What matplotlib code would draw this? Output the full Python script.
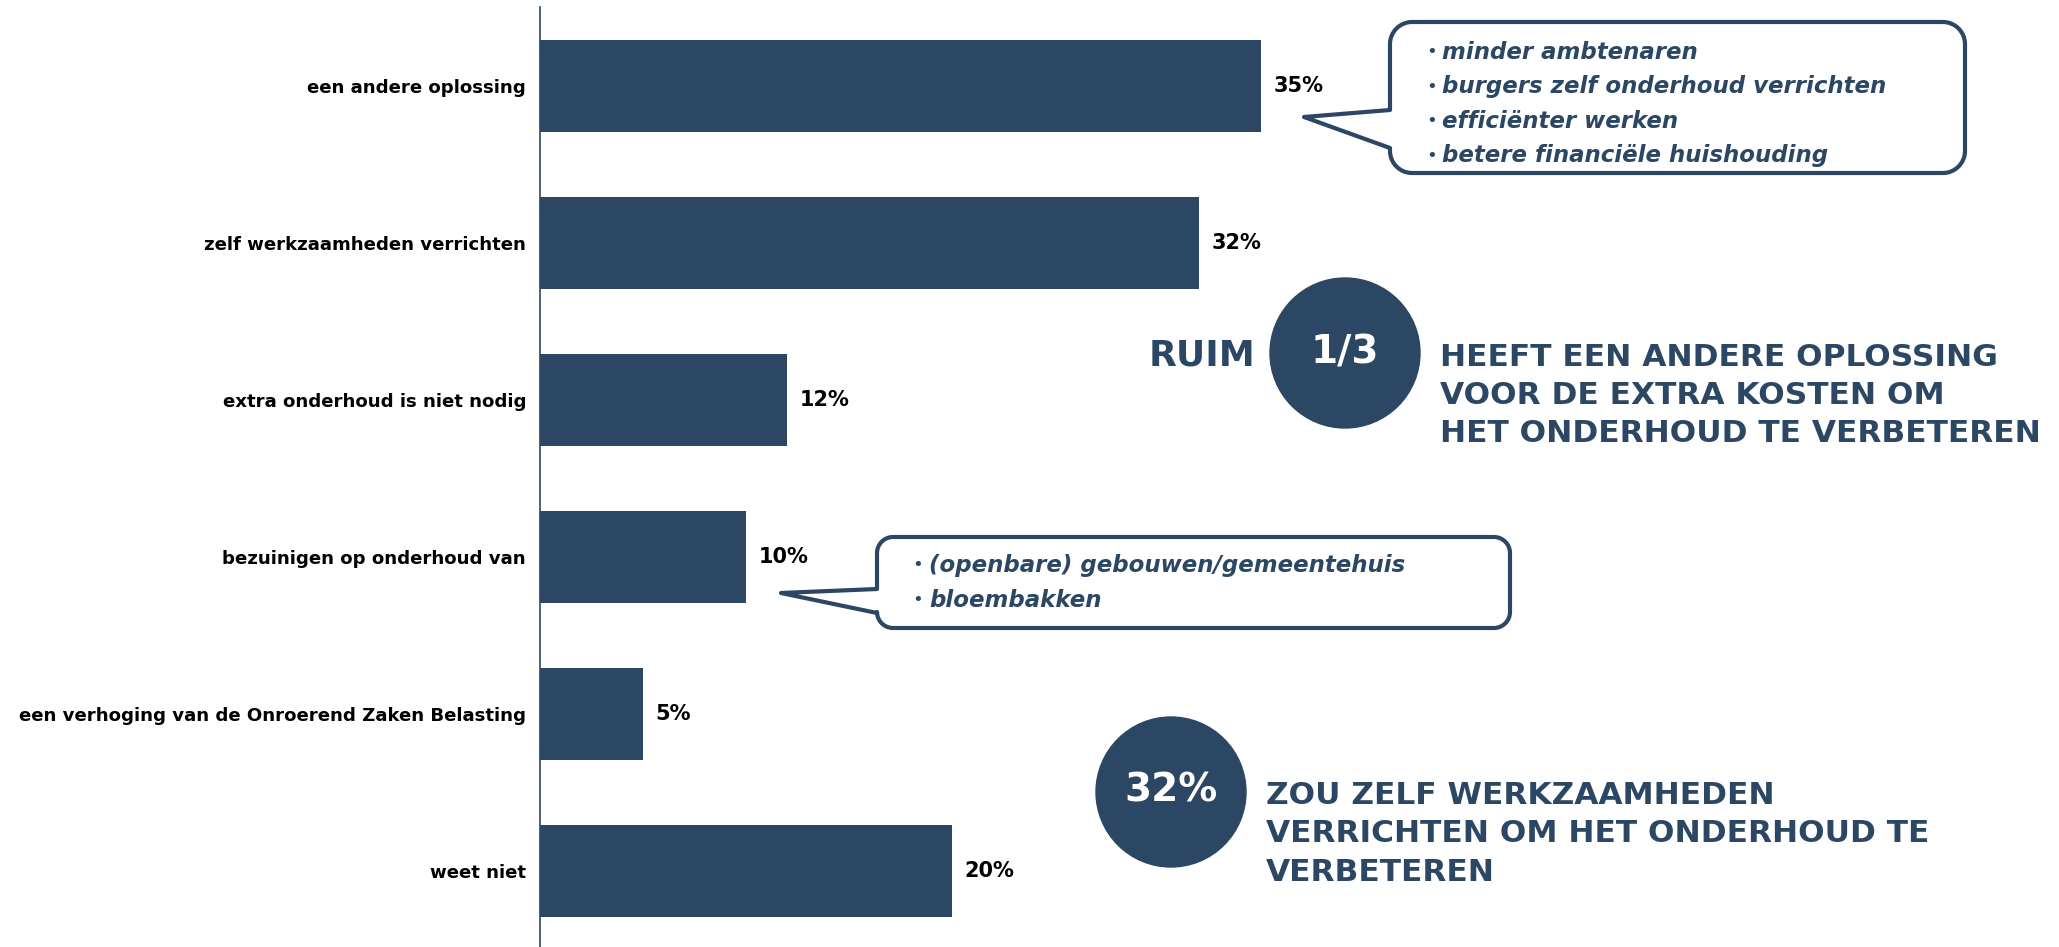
import numpy as np
import matplotlib
matplotlib.use('Agg')
import matplotlib.pyplot as plt
from matplotlib.path import Path
from matplotlib.patches import PathPatch, Circle

# data
categories = ["een andere oplossing", "zelf werkzaamheden verrichten",
              "extra onderhoud is niet nodig", "bezuinigen op onderhoud van",
              "een verhoging van de Onroerend Zaken Belasting", "weet niet"]
values = [35, 32, 12, 10, 5, 20]

callout1_lines = ["minder ambtenaren", "burgers zelf onderhoud verrichten",
                  "efficiënter werken", "betere financiële huishouding"]
callout2_lines = ["(openbare) gebouwen/gemeentehuis", "bloembakken"]
big1_prefix = "RUIM"
big1_value = "1/3"
big1_lines = ["HEEFT EEN ANDERE OPLOSSING", "VOOR DE EXTRA KOSTEN OM",
              "HET ONDERHOUD TE VERBETEREN"]
big2_value = "32%"
big2_lines = ["ZOU ZELF WERKZAAMHEDEN", "VERRICHTEN OM HET ONDERHOUD TE",
              "VERBETEREN"]

NAVY = '#2c4764'
W, H = 2059, 947
plt.rcParams['font.family'] = ['DejaVu Sans']

fig = plt.figure(figsize=(W / 100, H / 100), dpi=100)

# bar chart, axes placed in pixel terms
left, right = 540, W
top, bottom = 7.5, 949.5
ax = fig.add_axes([left / W, 1 - bottom / H, (right - left) / W, (bottom - top) / H])
y = np.arange(len(categories))
ax.barh(y, values, height=0.58, color=NAVY)
ax.set_ylim(len(categories) - 0.5, -0.5)
ax.set_xlim(0, (right - left) / 20.6)
ax.set_xticks([])
ax.set_yticks(y)
ax.set_yticklabels(categories, fontsize=13.1, fontweight='bold', color='black')
ax.tick_params(axis='y', length=0, pad=10)
for s in ['top', 'right', 'bottom']:
    ax.spines[s].set_visible(False)
ax.spines['left'].set_color(NAVY)
ax.spines['left'].set_linewidth(1.2)
for yi, v in zip(y, values):
    ax.text(v + 0.6, yi, f"{v}%", va='center', ha='left', fontsize=15,
            fontweight='bold', color='black')

# overlay in pixel coords for the annotations
ov = fig.add_axes([0, 0, 1, 1])
ov.set_xlim(0, W)
ov.set_ylim(H, 0)
ov.axis('off')
ov.patch.set_alpha(0)


def callout(x0, y0, x1, y1, r, tip, base_top, base_bot):
    k = 0.55
    verts = [(x0 + r, y0), (x1 - r, y0),
             (x1 - r + r * k, y0), (x1, y0 + r - r * k), (x1, y0 + r),
             (x1, y1 - r),
             (x1, y1 - r + r * k), (x1 - r + r * k, y1), (x1 - r, y1),
             (x0 + r, y1),
             (x0 + r - r * k, y1), (x0, y1 - r + r * k), (x0, y1 - r),
             (x0, base_bot), tip, (x0, base_top),
             (x0, y0 + r),
             (x0, y0 + r - r * k), (x0 + r - r * k, y0), (x0 + r, y0),
             (x0 + r, y0)]
    codes = [Path.MOVETO, Path.LINETO,
             Path.CURVE4, Path.CURVE4, Path.CURVE4,
             Path.LINETO,
             Path.CURVE4, Path.CURVE4, Path.CURVE4,
             Path.LINETO,
             Path.CURVE4, Path.CURVE4, Path.CURVE4,
             Path.LINETO, Path.LINETO, Path.LINETO,
             Path.LINETO,
             Path.CURVE4, Path.CURVE4, Path.CURVE4,
             Path.CLOSEPOLY]
    ov.add_patch(PathPatch(Path(verts, codes), facecolor='white', edgecolor=NAVY,
                           lw=3, joinstyle='round'))


callout(1390, 22, 1965, 173, 22, (1304, 117), 110, 148)
for i, line in enumerate(callout1_lines):
    yy = 52 + i * 34.5
    ov.text(1426, yy, "•", fontsize=13, color=NAVY, va='center', ha='left')
    ov.text(1442, yy, line, fontsize=16.5, color=NAVY, fontweight='bold',
            style='italic', va='center', ha='left')

callout(877, 537, 1510, 628, 16, (781, 593), 589, 613)
for i, line in enumerate(callout2_lines):
    yy = 565 + i * 35
    ov.text(912, yy, "•", fontsize=13, color=NAVY, va='center', ha='left')
    ov.text(929, yy, line, fontsize=16.5, color=NAVY, fontweight='bold',
            style='italic', va='center', ha='left')

# big number circles
ov.add_patch(Circle((1345, 353), 75, color=NAVY))
ov.text(1345, 352, big1_value, fontsize=28, color='white', fontweight='bold',
        ha='center', va='center')
ov.text(1255, 355, big1_prefix, fontsize=26, color=NAVY, fontweight='bold',
        ha='right', va='center')
for i, line in enumerate(big1_lines):
    ov.text(1440, 357 + i * 38, line, fontsize=22.5, color=NAVY, fontweight='bold',
            ha='left', va='center')

ov.add_patch(Circle((1171, 792), 75, color=NAVY))
ov.text(1171, 790, big2_value, fontsize=28, color='white', fontweight='bold',
        ha='center', va='center')
for i, line in enumerate(big2_lines):
    ov.text(1266, 795 + i * 38.5, line, fontsize=22.5, color=NAVY, fontweight='bold',
            ha='left', va='center')

fig.savefig("out.png", dpi=100, facecolor='white')
